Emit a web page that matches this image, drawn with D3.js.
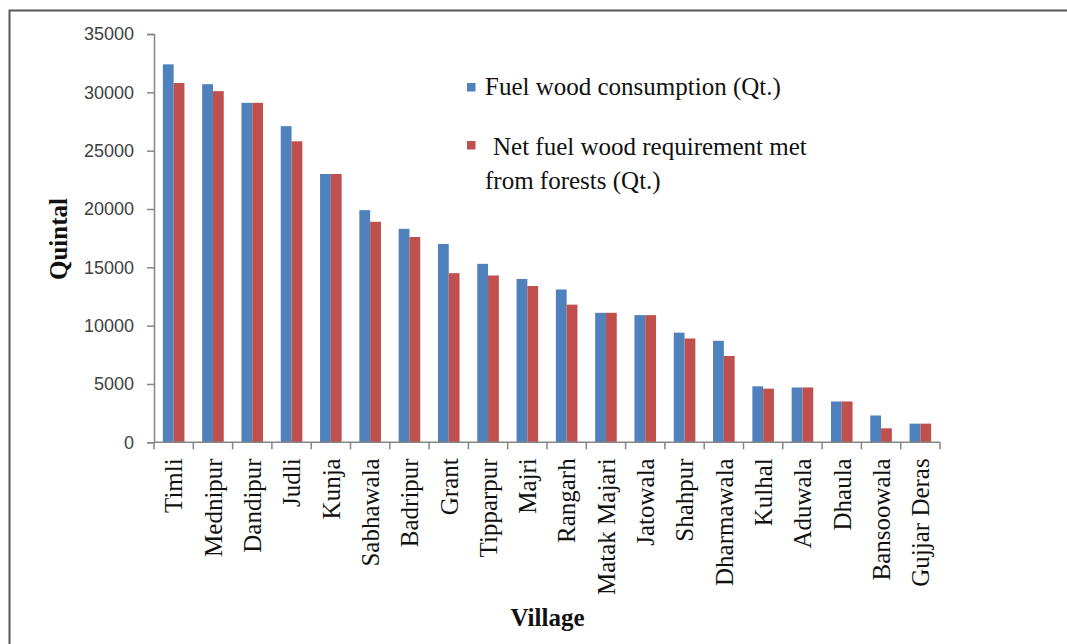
<!DOCTYPE html>
<html>
<head>
<meta charset="utf-8">
<script src="https://cdn.jsdelivr.net/npm/d3@7"></script>
<style>
  html, body { margin: 0; padding: 0; background: #ffffff; }
  svg { display: block; }
</style>
</head>
<body>
<svg id="chart" width="1067" height="644"></svg>
<script>
// Villages, ordered by fuel wood consumption
const villages = [
  "Timli", "Mednipur", "Dandipur", "Judli", "Kunja", "Sabhawala", "Badripur",
  "Grant", "Tipparpur", "Majri", "Rangarh", "Matak Majari", "Jatowala",
  "Shahpur", "Dharmawala", "Kulhal", "Aduwala", "Dhaula", "Bansoowala", "Gujjar Deras"
];

// Fuel wood consumption (quintal)
const consumption = [
  32400, 30700, 29100, 27100, 23000, 19900, 18300,
  17000, 15300, 14000, 13100, 11100, 10900,
  9400, 8700, 4800, 4700, 3500, 2300, 1600
];

// Net fuel wood requirement met from forests (quintal)
const fromForests = [
  30800, 30100, 29100, 25800, 23000, 18900, 17600,
  14500, 14300, 13400, 11800, 11100, 10900,
  8900, 7400, 4600, 4700, 3500, 1200, 1600
];

const seriesNames = ["Fuel wood consumption (Qt.)", "Net fuel wood requirement met from forests (Qt.)"];
const seriesColors = ["#4F81BD", "#C0504D"];
const yTicks = [0, 5000, 10000, 15000, 20000, 25000, 30000, 35000];

const svg = d3.select("#chart");

// frame around the figure (left and top edges visible)
svg.append("path")
  .attr("d", "M9.5,644 L9.5,10.5 L1067,10.5")
  .attr("fill", "none")
  .attr("stroke", "#595959")
  .attr("stroke-width", 2);

const plot = { left: 154, right: 940, top: 34, bottom: 442.3 };

const x = d3.scaleBand()
  .domain(villages)
  .range([plot.left, plot.right])
  .paddingInner(0)
  .paddingOuter(0);

const xInner = d3.scaleBand()
  .domain([0, 1])
  .range([0, x.bandwidth()])
  .paddingInner(0)
  .paddingOuter(0.82);

const y = d3.scaleLinear()
  .domain([0, 35000])
  .range([plot.bottom, plot.top]);

const serif = "'Liberation Serif', 'Times New Roman', serif";
const sans = "'Liberation Sans', Arial, sans-serif";
const axisColor = "#868686";

// bars
const rows = villages.map((v, i) => ({ village: v, values: [consumption[i], fromForests[i]] }));
const groups = svg.append("g").selectAll("g")
  .data(rows)
  .join("g")
  .attr("transform", d => `translate(${x(d.village)},0)`);

groups.selectAll("rect")
  .data(d => d.values.map((v, s) => ({ s, v })))
  .join("rect")
  .attr("x", d => xInner(d.s))
  .attr("width", xInner.bandwidth())
  .attr("y", d => y(d.v))
  .attr("height", d => y(0) - y(d.v))
  .attr("fill", d => seriesColors[d.s]);

// y axis
const yAxis = d3.axisLeft(y)
  .tickValues(yTicks)
  .tickFormat(d3.format("d"))
  .tickSize(7)
  .tickPadding(13);

const gy = svg.append("g")
  .attr("transform", `translate(${plot.left},0)`)
  .call(yAxis);
gy.select(".domain").attr("stroke", axisColor).attr("stroke-width", 1.5);
gy.selectAll(".tick line").attr("stroke", axisColor).attr("stroke-width", 1.5);
gy.selectAll(".tick text")
  .attr("fill", "#404040")
  .style("font-family", sans)
  .style("font-size", "18px");

// x axis: baseline with tick marks between categories
const gx = svg.append("g");
gx.append("line")
  .attr("x1", plot.left).attr("x2", plot.right)
  .attr("y1", y(0)).attr("y2", y(0))
  .attr("stroke", axisColor).attr("stroke-width", 1.5);

const boundaries = villages.map(v => x(v)).concat([x.range()[1]]);
gx.selectAll("line.tick")
  .data(boundaries)
  .join("line")
  .attr("class", "tick")
  .attr("x1", d => d).attr("x2", d => d)
  .attr("y1", y(0)).attr("y2", y(0) + 7)
  .attr("stroke", axisColor).attr("stroke-width", 1.5);

// category labels, rotated
gx.selectAll("text")
  .data(villages)
  .join("text")
  .attr("transform", d => `translate(${x(d) + x.bandwidth() / 2},${y(0) + 16}) rotate(-90)`)
  .attr("dy", "0.35em")
  .attr("text-anchor", "end")
  .attr("fill", "#111")
  .style("font-family", serif)
  .style("font-size", "25px")
  .text(d => d);

// axis titles
svg.append("text")
  .attr("transform", "translate(67,239) rotate(-90)")
  .attr("text-anchor", "middle")
  .attr("fill", "#111")
  .style("font-family", serif)
  .style("font-size", "25px")
  .style("font-weight", "bold")
  .text("Quintal");

svg.append("text")
  .attr("x", 547.5)
  .attr("y", 626)
  .attr("text-anchor", "middle")
  .attr("fill", "#111")
  .style("font-family", serif)
  .style("font-size", "25px")
  .style("font-weight", "bold")
  .text("Village");

// legend
const legend = svg.append("g");
const legendItems = [
  { color: seriesColors[0], box: 83, lines: [{ x: 485, y: 94.5, t: "Fuel wood consumption (Qt.)" }] },
  { color: seriesColors[1], box: 141, lines: [
      { x: 493, y: 154.5, t: "Net fuel wood requirement met" },
      { x: 485, y: 188.5, t: "from forests (Qt.)" }
  ] }
];
legendItems.forEach(item => {
  legend.append("rect")
    .attr("x", 467).attr("y", item.box)
    .attr("width", 8.5).attr("height", 8.5)
    .attr("fill", item.color);
  item.lines.forEach(l => {
    legend.append("text")
      .attr("x", l.x).attr("y", l.y)
      .attr("fill", "#111")
      .style("font-family", serif)
      .style("font-size", "25px")
      .text(l.t);
  });
});
</script>
</body>
</html>
